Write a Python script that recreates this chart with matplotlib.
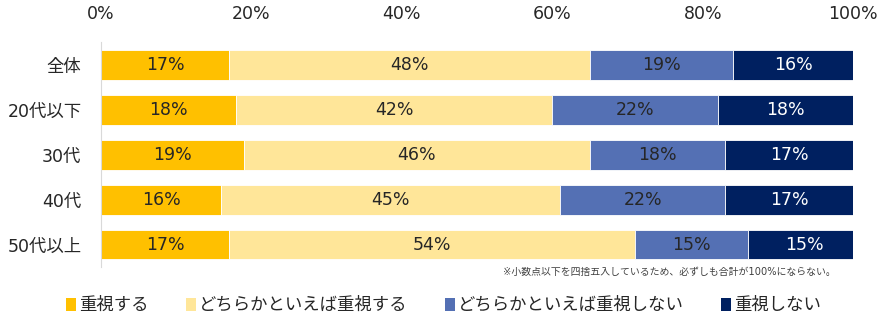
import matplotlib.pyplot as plt
from matplotlib.patches import Patch

# 数字はDejaVu、日本語はNoto Sans CJKで描く
plt.rcParams['font.family'] = ['DejaVu Sans', 'Noto Sans CJK JP']

# 年代別の回答割合（%）
groups = ["全体", "20代以下", "30代", "40代", "50代以上"]
answers = ["重視する", "どちらかといえば重視する", "どちらかといえば重視しない", "重視しない"]
juushi = [17, 18, 19, 16, 17]
dochira_juushi = [48, 42, 46, 45, 54]
dochira_shinai = [19, 22, 18, 22, 15]
juushi_shinai = [16, 18, 17, 17, 15]
xticks = [0, 20, 40, 60, 80, 100]

series = [juushi, dochira_juushi, dochira_shinai, juushi_shinai]
colors = ["#FFC000", "#FFE699", "#5470B4", "#002060"]
text_colors = ["#262626", "#262626", "#262626", "white"]

fig = plt.figure(figsize=(8.86, 3.24), dpi=100)
ax = fig.add_axes([0.114, 0.176, 0.849, 0.693])

rows = range(len(groups))
left = [0] * len(groups)
for vals, col, tcol in zip(series, colors, text_colors):
    ax.barh(rows, vals, left=left, height=0.667, color=col,
            edgecolor="white", linewidth=0.6)
    for i, v in enumerate(vals):
        ax.text(left[i] + v / 2, i, f"{v}%", ha="center", va="center",
                fontsize=12.5, color=tcol)
    left = [a + b for a, b in zip(left, vals)]

ax.set_xlim(0, 100)
ax.set_ylim(len(groups) - 0.5, -0.5)
ax.set_yticks(list(rows))
ax.set_yticklabels(groups, fontsize=12.5, color="#262626")
ax.set_xticks(xticks)
ax.set_xticklabels([f"{t}%" for t in xticks], fontsize=12.5, color="#262626")
ax.xaxis.tick_top()
ax.tick_params(axis="x", length=0, pad=14)
ax.tick_params(axis="y", length=0, pad=14)
for side in ["top", "right", "bottom"]:
    ax.spines[side].set_visible(False)
ax.spines["left"].set_color("#D9D9D9")

fig.text(0.943, 0.16, "※小数点以下を四捨五入しているため、必ずしも合計が100%にならない。",
         ha="right", va="center", fontsize=7.1, color="#404040")

handles = [Patch(facecolor=c, edgecolor="none") for c in colors]
fig.legend(handles, answers, loc="center", bbox_to_anchor=(0.501, 0.058), ncol=4,
           frameon=False, fontsize=12.5, handlelength=0.55, handleheight=0.8,
           handletextpad=0.2, columnspacing=2.15, labelcolor="#262626")

fig.savefig("out.png", dpi=100)
